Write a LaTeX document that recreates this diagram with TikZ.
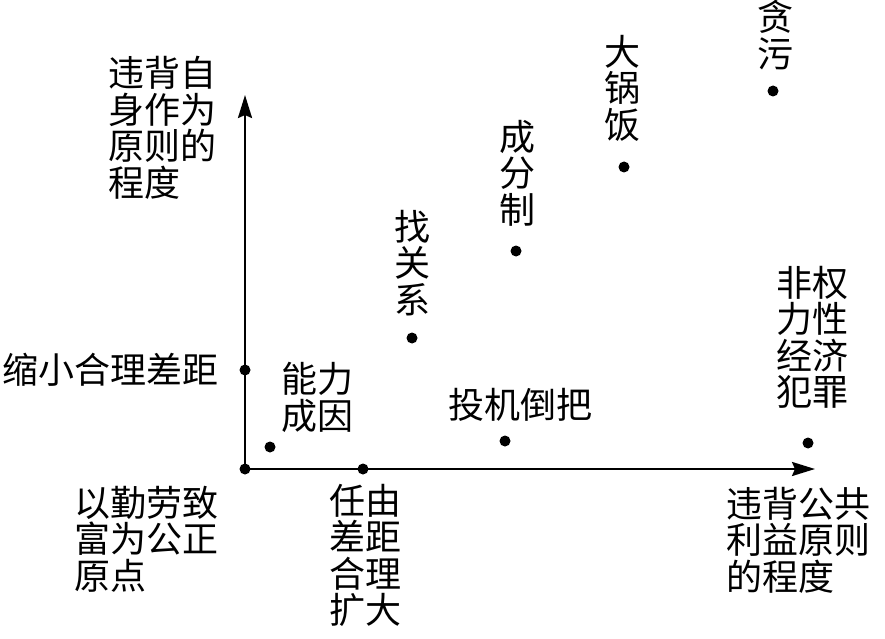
\documentclass[tikz,border=0pt]{standalone}
\usepackage{fontspec}
\newfontfamily\cjk{Noto Sans CJK SC}
\usetikzlibrary{arrows.meta}
\begin{document}
\begin{tikzpicture}[x=1pt,y=-1pt,
  lbl/.style={font=\cjk\fontsize{36}{36.5}\selectfont, inner sep=0pt, align=left},
  dot/.style={circle, fill=black, inner sep=0pt, minimum size=11pt},
  axis/.style={line width=2.5pt, -{Stealth[length=23pt,width=14pt,inset=3pt]}}]
\useasboundingbox (0,0) rectangle (885,639);
% axes
\coordinate (O) at (245,469);
\coordinate (ytip) at (245,95);
\coordinate (xtip) at (815,469);
\draw[axis] (O) -- (ytip);
\draw[axis] (O) -- (xtip);
% dots
\node[dot] (d0) at (O) {};
\node[dot] (d1) at (245,370) {};
\node[dot] (d2) at (270,447) {};
\node[dot] (d3) at (363,469) {};
\node[dot] (d4) at (412,338) {};
\node[dot] (d5) at (505,441) {};
\node[dot] (d6) at (516,251) {};
\node[dot] (d7) at (624,167) {};
\node[dot] (d8) at (773,91) {};
\node[dot] (d9) at (808,443) {};
% labels
\node[lbl, anchor=north west] (ylab) at (108,56) {违背自\\身作为\\原则的\\程度};
\node[lbl, anchor=west] (t1) at (2,370) {缩小合理差距};
\node[lbl, anchor=north west] (t2) at (281,362) {能力\\成因};
\node[lbl, anchor=north west] (t0) at (74,486) {以勤劳致\\富为公正\\原点};
\node[lbl, anchor=north west] (t3) at (329,484) {任由\\差距\\合理\\扩大};
\node[lbl, anchor=north west] (t4) at (394,210) {找\\关\\系};
\node[lbl, anchor=west] (t5) at (448,405) {投机倒把};
\node[lbl, anchor=north west] (t6) at (499,120) {成\\分\\制};
\node[lbl, anchor=north west] (t7) at (604,35) {大\\锅\\饭};
\node[lbl, anchor=north west] (t8) at (757,0) {贪\\污};
\node[lbl, anchor=north west] (t9) at (776,266) {非权\\力性\\经济\\犯罪};
\node[lbl, anchor=north west] (xlab) at (726,487) {违背公共\\利益原则\\的程度};
\end{tikzpicture}
\end{document}
